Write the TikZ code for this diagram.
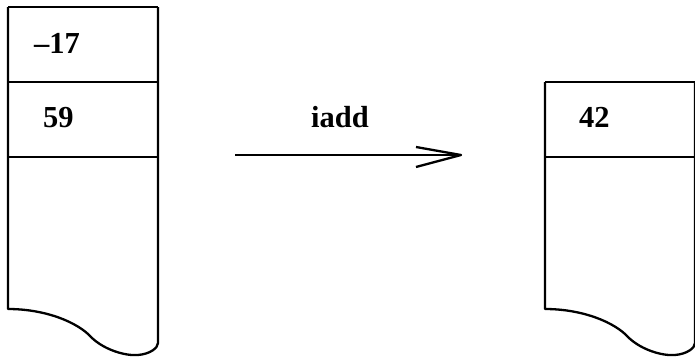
\documentclass[tikz,border=0pt]{standalone}
\usepackage{fontspec}
\setmainfont{Liberation Serif}
\begin{document}
\begin{tikzpicture}[x=1pt,y=-1pt,
  line width=2.3pt, line join=round,
  lbl/.style={inner sep=0pt, anchor=base west, font=\fontsize{30.5}{36}\selectfont\bfseries}]
\useasboundingbox (0,0) rectangle (695,356);
% left stack
\draw (8,7) -- (158,7);
\draw (8,82) -- (158,82);
\draw (8,157) -- (158,157);
\draw (158,7) -- (158,343)
  .. controls (158,348) and (150,354) .. (138,355)
  .. controls (125,356) and (105,350) .. (92,338)
  .. controls (78,322) and (45,309) .. (8,309) -- (8,7);
% right stack
\begin{scope}[xshift=537pt]
\draw (8,82) -- (158,82);
\draw (8,157) -- (158,157);
\draw (158,82) -- (158,343)
  .. controls (158,348) and (150,354) .. (138,355)
  .. controls (125,356) and (105,350) .. (92,338)
  .. controls (78,322) and (45,309) .. (8,309) -- (8,82);
\end{scope}
% labels
\node[lbl] (n17) at (33,53) {–17};
\node[lbl] (n59) at (42,127) {59};
\node[lbl] (iadd) at (310,127) {iadd};
\node[lbl] (n42) at (578,127) {42};
% arrow
\coordinate (as) at (235,155);
\coordinate (ae) at (461,155);
\draw (as) -- (ae);
\draw (416,147) -- (ae) -- (416,167);
\end{tikzpicture}
\end{document}
